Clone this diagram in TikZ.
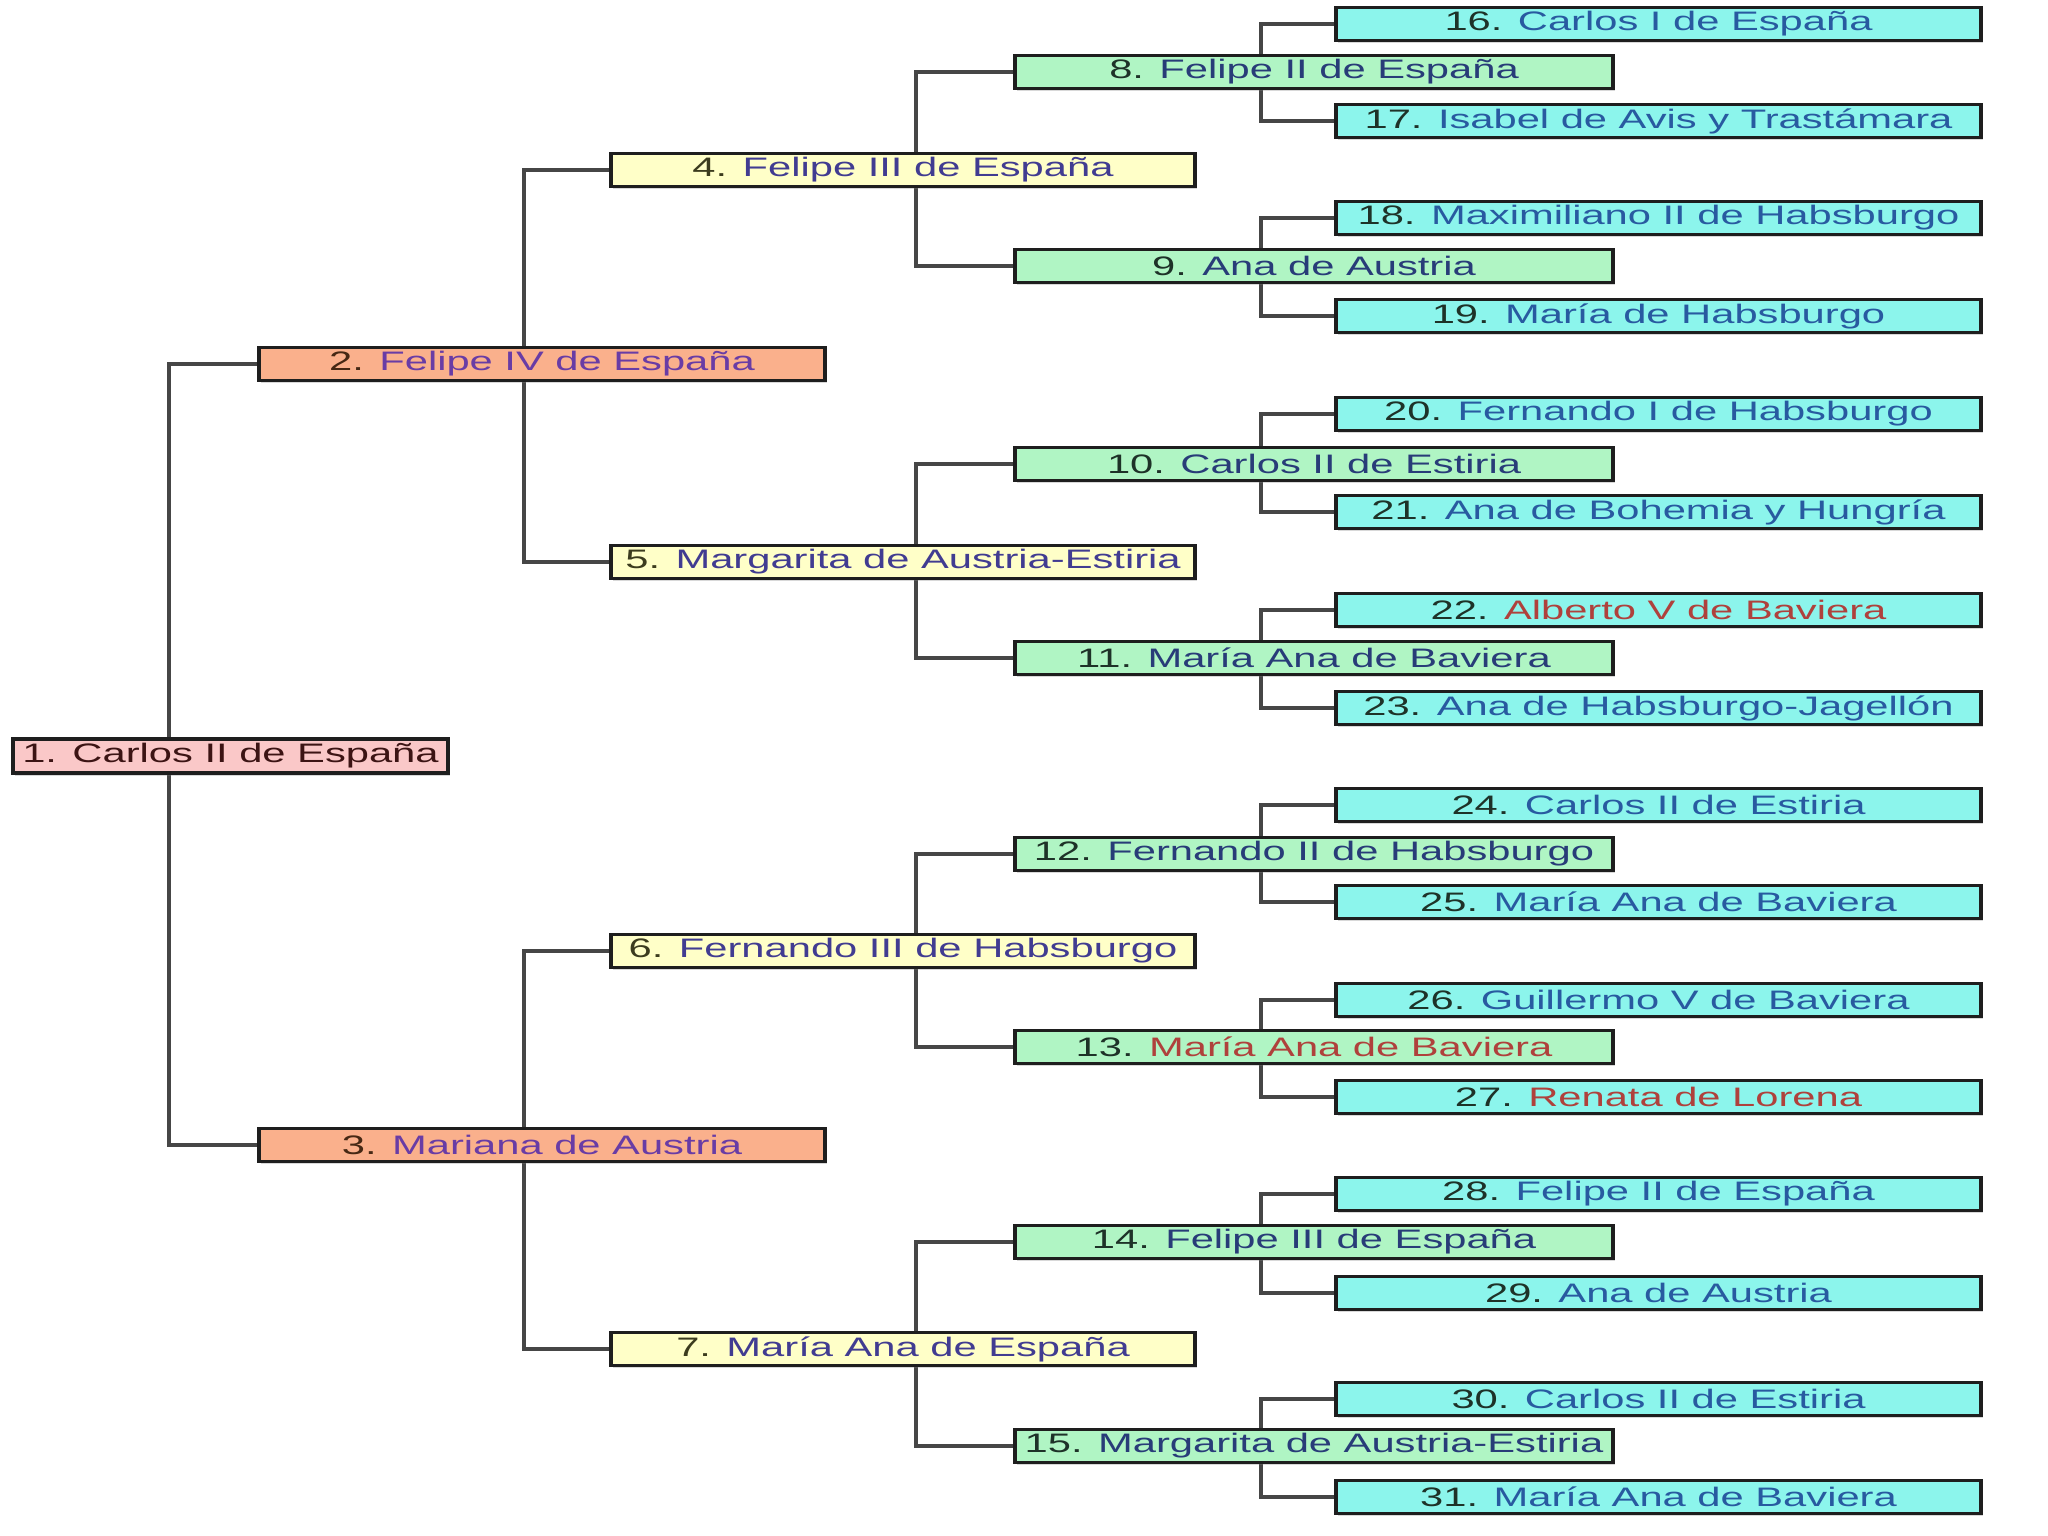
\documentclass[tikz,border=0pt]{standalone}
\usepackage{fontspec}
\setmainfont[FakeStretch=1.56]{Liberation Sans}
\usetikzlibrary{backgrounds,shadows}

\definecolor{rosa}{RGB}{250,200,200}
\definecolor{salmon}{RGB}{250,176,140}
\definecolor{crema}{RGB}{255,255,200}
\definecolor{verde}{RGB}{176,245,196}
\definecolor{cian}{RGB}{140,245,236}
\definecolor{borde}{RGB}{30,30,30}
\definecolor{linea}{RGB}{70,70,70}
\definecolor{numA}{RGB}{60,20,20}
\definecolor{numB}{RGB}{70,40,20}
\definecolor{numC}{RGB}{60,60,30}
\definecolor{numD}{RGB}{30,50,40}
\definecolor{morado}{RGB}{105,60,165}
\definecolor{indigo}{RGB}{65,60,145}
\definecolor{marino}{RGB}{40,60,120}
\definecolor{azul}{RGB}{40,90,160}
\definecolor{rojo}{RGB}{175,65,60}

\tikzset{
  persona/.style={draw=borde, line width=1pt, inner sep=0pt, minimum height=0.33cm,
    font=\fontsize{7.6}{9}\selectfont,
    drop shadow={shadow xshift=0.5pt, shadow yshift=-0.8pt, opacity=0.3}},
  gen0/.style={persona, fill=rosa, minimum width=4.35cm, minimum height=0.34cm},
  gen1/.style={persona, fill=salmon, minimum width=5.66cm},
  gen2/.style={persona, fill=crema, minimum width=5.84cm},
  gen3/.style={persona, fill=verde, minimum width=5.98cm},
  gen4/.style={persona, fill=cian, minimum width=6.45cm},
  conector/.style={draw=linea, line width=1pt}
}

\begin{document}
\begin{tikzpicture}[x=0.01cm, y=-0.01cm]
\useasboundingbox (0,0) rectangle (2048,1536);

% generation 0
\node[gen0] (n1) at (230.5,756) {\textcolor{numA}{1. Carlos II de España}};

% generation 1: parents
\foreach \n/\y/\t in {2/364/Felipe IV de España, 3/1145/Mariana de Austria} {
  \node[gen1] (n\n) at (542,\y) {\textcolor{numB}{\n.} \textcolor{morado}{\t}};
}

% generation 2: grandparents
\foreach \n/\y/\t in {4/170/Felipe III de España, 5/562/Margarita de Austria-Estiria,
    6/951/Fernando III de Habsburgo, 7/1349/María Ana de España} {
  \node[gen2] (n\n) at (903,\y) {\textcolor{numC}{\n.} \textcolor{indigo}{\t}};
}

% generation 3: great-grandparents
\foreach \n/\y/\c/\t in {8/72/marino/Felipe II de España, 9/266/marino/Ana de Austria,
    10/464/marino/Carlos II de Estiria, 11/658/marino/María Ana de Baviera,
    12/854/marino/Fernando II de Habsburgo, 13/1047/rojo/María Ana de Baviera,
    14/1242/marino/Felipe III de España, 15/1446/marino/Margarita de Austria-Estiria} {
  \node[gen3] (n\n) at (1314,\y) {\textcolor{numD}{\n.} \textcolor{\c}{\t}};
}

% generation 4: great-great-grandparents
\foreach \n/\y/\c/\t in {16/24/azul/Carlos I de España, 17/121/azul/Isabel de Avis y Trastámara,
    18/218/azul/Maximiliano II de Habsburgo, 19/316/azul/María de Habsburgo,
    20/414/azul/Fernando I de Habsburgo, 21/512/azul/Ana de Bohemia y Hungría,
    22/610/rojo/Alberto V de Baviera, 23/708/azul/Ana de Habsburgo-Jagellón,
    24/805/azul/Carlos II de Estiria, 25/902/azul/María Ana de Baviera,
    26/1000/azul/Guillermo V de Baviera, 27/1097/rojo/Renata de Lorena,
    28/1194/azul/Felipe II de España, 29/1293/azul/Ana de Austria,
    30/1399/azul/Carlos II de Estiria, 31/1497/azul/María Ana de Baviera} {
  \node[gen4] (n\n) at (1658.5,\y) {\textcolor{numD}{\n.} \textcolor{\c}{\t}};
}

% connectors: each parent's pair of children
\begin{scope}[on background layer]
\fill[white] (0,0) rectangle (2048,1536);
\foreach \p/\d in {1/88, 2/85, 3/85, 4/97, 5/97, 6/97, 7/97,
    8/73, 9/73, 10/73, 11/73, 12/73, 13/73, 14/73, 15/73} {
  \pgfmathtruncatemacro{\a}{2*\p}
  \pgfmathtruncatemacro{\b}{2*\p+1}
  \draw[conector] (n\a.west) -- ++(-\d,0) |- (n\b.west);
}
\end{scope}
\end{tikzpicture}
\end{document}
